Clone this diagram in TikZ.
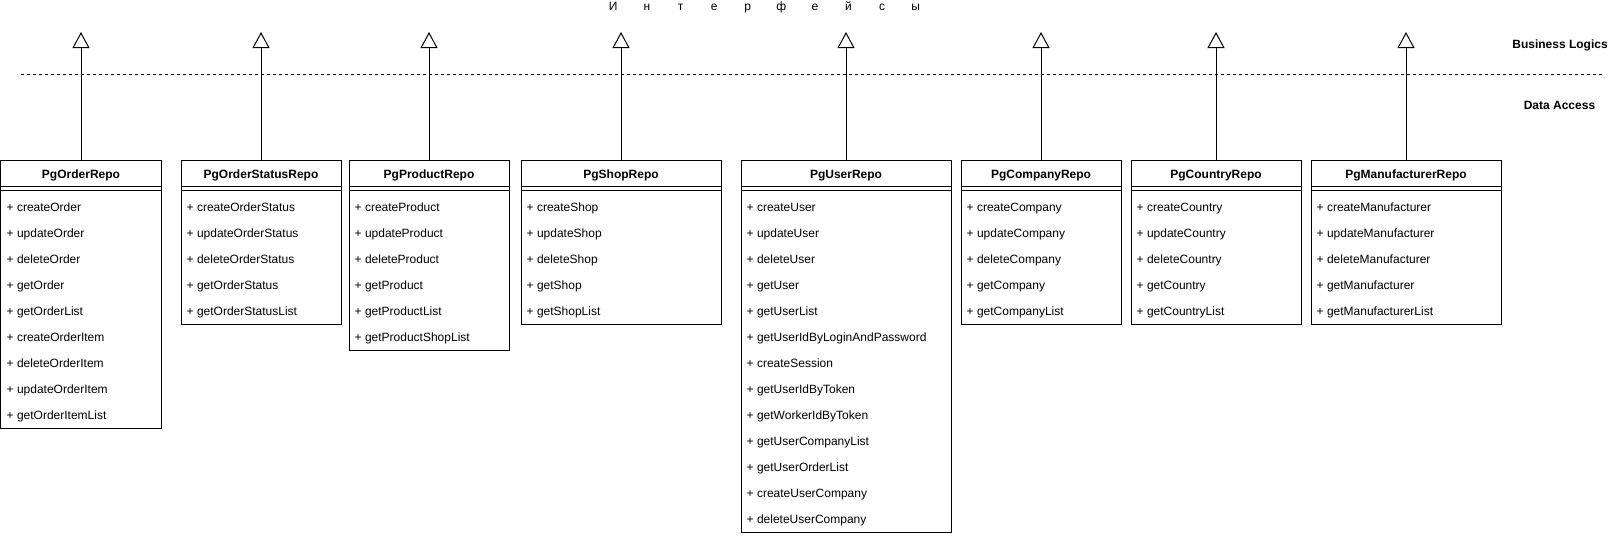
\documentclass[tikz,border=0pt]{standalone}
\usepackage{fontspec}
\setmainfont{Liberation Sans}
\usepackage{tikz}
\usetikzlibrary{positioning, arrows.meta}
\tikzset{repohead/.style={draw, line width=1pt, outer sep=0pt, minimum height=26pt, inner sep=0pt, font=\fontsize{12pt}{14pt}\selectfont\bfseries, text height=10pt, text depth=0pt}}
\tikzset{repobody/.style={draw, line width=1pt, outer sep=0pt, inner sep=0pt}}
\tikzset{repoitem/.style={anchor=base west, inner xsep=4pt, font=\fontsize{12pt}{14pt}\selectfont}}
\tikzset{layer/.style={font=\fontsize{12pt}{14pt}\selectfont\bfseries}}
\tikzset{realize/.style={line width=1pt, -{Triangle[open, length=16pt, width=17pt]}}}
\newcommand{\repobox}[6]{% id, centre x, width, title, number of items, items
\node[repohead, minimum width=#3] (#1) at (#2,173) {#4};
\node[repobody, minimum width=#3, minimum height={(8+26*#5)*1pt}, below=0pt of #1] (#1-body) {};
\draw[line width=1pt] ([yshift=-4pt]#1-body.north west) -- ([yshift=-4pt]#1-body.north east);
\foreach \m [count=\i] in {#6}
  \node[repoitem] at ([xshift=1.5pt, yshift={(0.5-26*\i)*1pt}]#1-body.north west) {+ \m};
\coordinate (#1-if) at (#2,32);
\draw[realize] (#1.north) -- (#1-if);
}

\begin{document}
\begin{tikzpicture}[x=1pt, y=-1pt]
\useasboundingbox (-0.5,0) rectangle (1608.5,536);
\node[anchor=base, inner sep=0pt, font=\fontsize{12pt}{14pt}\selectfont] (title) at (764,10.5) {\foreach \c in {И,н,т,е,р,ф,е,й,с,ы}{\makebox[33.6pt]{\c}}};
\coordinate (sepL) at (20,74.5); \coordinate (sepR) at (1602,74.5);
\draw[line width=1pt, dash pattern=on 3pt off 3pt] (sepL) -- (sepR);
\node[layer] (bl) at (1559.5,45) {Business Logics};
\node[layer] (da) at (1559,105) {Data Access};
\repobox{order}{80.5}{160}{PgOrderRepo}{9}{createOrder, updateOrder, deleteOrder, getOrder, getOrderList, createOrderItem, deleteOrderItem, updateOrderItem, getOrderItemList}
\repobox{status}{260.5}{160}{PgOrderStatusRepo}{5}{createOrderStatus, updateOrderStatus, deleteOrderStatus, getOrderStatus, getOrderStatusList}
\repobox{product}{428.5}{160}{PgProductRepo}{6}{createProduct, updateProduct, deleteProduct, getProduct, getProductList, getProductShopList}
\repobox{shop}{620.5}{200}{PgShopRepo}{5}{createShop, updateShop, deleteShop, getShop, getShopList}
\repobox{user}{845.5}{210}{PgUserRepo}{13}{createUser, updateUser, deleteUser, getUser, getUserList, getUserIdByLoginAndPassword, createSession, getUserIdByToken, getWorkerIdByToken, getUserCompanyList, getUserOrderList, createUserCompany, deleteUserCompany}
\repobox{company}{1040.5}{160}{PgCompanyRepo}{5}{createCompany, updateCompany, deleteCompany, getCompany, getCompanyList}
\repobox{country}{1215.5}{170}{PgCountryRepo}{5}{createCountry, updateCountry, deleteCountry, getCountry, getCountryList}
\repobox{maker}{1405.5}{190}{PgManufacturerRepo}{5}{createManufacturer, updateManufacturer, deleteManufacturer, getManufacturer, getManufacturerList}
\end{tikzpicture}
\end{document}
